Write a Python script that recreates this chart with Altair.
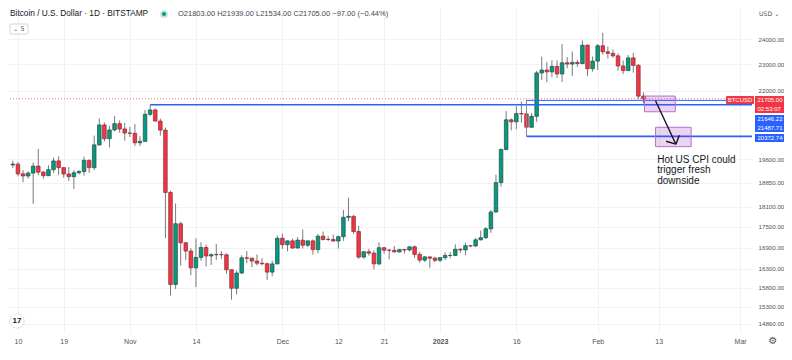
import altair as alt
import pandas as pd

# ---------------- data ----------------
dates = pd.date_range("2022-10-09", periods=125, freq="D").strftime("%Y-%m-%d").tolist()
opens = [19417, 19445, 19130, 19060, 19155, 19380, 19185, 19070, 19265, 19550,
         19330, 19125, 19040, 19165, 19205, 19570, 19330, 20085, 20770, 20295,
         20595, 20815, 20630, 20490, 20480, 20155, 20205, 21145, 21300, 20905,
         20590, 18540, 15880, 17590, 17035, 16800, 16330, 16620, 16900, 16660,
         16695, 16700, 16695, 16280, 15780, 16190, 16610, 16600, 16520, 16460,
         16445, 16215, 16440, 17165, 16980, 17090, 16885, 17110, 16965, 17090,
         16840, 17225, 17130, 17130, 17085, 17210, 17780, 17810, 17360, 16630,
         16780, 16740, 16440, 16895, 16825, 16820, 16775, 16840, 16830, 16920,
         16705, 16545, 16635, 16600, 16540, 16615, 16675, 16675, 16850, 16830,
         16950, 16945, 17120, 17180, 17440, 17940, 18850, 19930, 20950, 20880,
         21170, 21160, 20690, 21075, 22670, 22780, 22710, 22920, 22630, 23060,
         23010, 23075, 23030, 23750, 22830, 23125, 23730, 23490, 23430, 23330,
         22935, 22760, 23250, 22960, 21803]
highs = [19560, 19515, 19250, 19210, 19500, 19950, 19220, 19410, 19660, 19700,
         19350, 19350, 19250, 19250, 19690, 19600, 20400, 21000, 20860, 20740,
         21080, 20930, 20840, 20700, 20800, 20380, 21300, 21480, 21360, 20990,
         20680, 18590, 18200, 17650, 17050, 16880, 17160, 17050, 16980, 16740,
         17000, 16800, 16730, 16280, 16260, 16680, 16800, 16610, 16700, 16600,
         16480, 16530, 17240, 17300, 17100, 17150, 17200, 17420, 17100, 17130,
         17290, 17360, 17220, 17270, 17240, 18000, 18380, 17850, 17530, 16800,
         16860, 16820, 17050, 16910, 16860, 16940, 16860, 16860, 16930, 16960,
         16780, 16660, 16640, 16640, 16630, 16760, 16770, 16990, 16880, 17040,
         16970, 17180, 17390, 17490, 18000, 19100, 19960, 21260, 21000, 21440,
         21610, 21650, 21190, 22750, 23300, 23080, 23160, 23150, 23800, 23280,
         23500, 23170, 23940, 23790, 23300, 23800, 24250, 23700, 23580, 23430,
         23150, 23360, 23450, 23010, 21939]
lows = [19320, 19050, 18860, 18980, 18190, 19090, 18980, 19060, 19160, 19100,
        19000, 18900, 18650, 19110, 19070, 19160, 19250, 20060, 20200, 20000,
        20550, 20500, 20230, 20350, 20050, 20050, 20180, 21080, 20900, 20400,
        17170, 15590, 15760, 16400, 16550, 16130, 15810, 16530, 16370, 16410,
        16550, 16580, 16170, 15480, 15620, 16160, 16460, 16350, 16400, 16400,
        16000, 16100, 16430, 16860, 16790, 16860, 16880, 16870, 16910, 16700,
        16740, 17100, 17090, 17070, 16870, 17090, 17660, 17290, 16580, 16590,
        16670, 16290, 16400, 16720, 16570, 16760, 16760, 16730, 16790, 16600,
        16470, 16490, 16330, 16490, 16490, 16550, 16600, 16660, 16750, 16680,
        16910, 16910, 17100, 17150, 17320, 17920, 18720, 19900, 20580, 20620,
        20850, 20400, 20670, 20880, 22400, 22320, 22500, 22480, 22330, 22850,
        22550, 22900, 23000, 22550, 22720, 22780, 23380, 23230, 23260, 22760,
        22630, 22740, 22680, 21690, 21534]
closes = [19445, 19130, 19060, 19155, 19380, 19185, 19070, 19265, 19550, 19330,
          19125, 19040, 19165, 19205, 19570, 19330, 20085, 20770, 20295, 20595,
          20815, 20630, 20490, 20480, 20155, 20205, 21145, 21300, 20905, 20590,
          18540, 15880, 17590, 17035, 16800, 16330, 16620, 16900, 16660, 16695,
          16700, 16695, 16280, 15780, 16190, 16610, 16600, 16520, 16460, 16445,
          16215, 16440, 17165, 16980, 17090, 16885, 17110, 16965, 17090, 16840,
          17225, 17130, 17130, 17085, 17210, 17780, 17810, 17360, 16630, 16780,
          16740, 16440, 16895, 16825, 16820, 16775, 16840, 16830, 16920, 16705,
          16545, 16635, 16600, 16540, 16615, 16675, 16675, 16850, 16830, 16950,
          16945, 17120, 17180, 17440, 17940, 18850, 19930, 20950, 20880, 21170,
          21160, 20690, 21075, 22670, 22780, 22710, 22920, 22630, 23060, 23010,
          23075, 23030, 23750, 22830, 23125, 23730, 23490, 23430, 23330, 22935,
          22760, 23250, 22960, 21800, 21705]

y_ticks = [24000, 23000, 22000, 19600, 18850, 18100, 17500, 16900, 16300, 15800, 15300, 14860]
x_ticks = ["2022-10-10", "2022-10-19", "2022-11-01", "2022-11-14", "2022-12-01", "2022-12-12",
           "2022-12-21", "2023-01-01", "2023-01-16", "2023-02-01", "2023-02-13", "2023-03-01"]

ray_price = [21487.71, 21646.22, 20372.74]
ray_start = ["2022-11-05", "2023-01-18", "2023-01-18"]
ray_end = "2023-03-06"
ray_width = [1.6, 1.0, 1.6]

last_price = 21705.00

zone_x = ["2023-02-10T05:00:00Z", "2023-02-12T09:00:00Z"]
zone_x2 = ["2023-02-16T06:00:00Z", "2023-02-19T09:00:00Z"]
zone_top = [21804, 20688]
zone_bottom = [21236, 20025]

arrow_x = ["2023-02-12T09:00:00Z", "2023-02-14T11:00:00Z", "2023-02-17T01:00:00Z"]
arrow_y = [21632, 20209, 20415]
arrow_tip_x = "2023-02-16T09:00:00Z"
arrow_tip_y = 20108

note_x = "2023-02-12T17:00:00Z"
note_y = 19748
note_text = "Hot US CPI could\ntrigger fresh\ndownside"

# ---------------- frames ----------------
df = pd.DataFrame({"date": dates, "open": opens, "high": highs, "low": lows, "close": closes})
df["dir"] = ["up" if c >= o else "down" for o, c in zip(opens, closes)]

rays = pd.DataFrame({"start": ray_start, "end": [ray_end] * 3, "price": ray_price, "w": ray_width})
zones = pd.DataFrame({"x": zone_x, "x2": zone_x2, "top": zone_top, "bottom": zone_bottom})
arrow = pd.DataFrame({"x": arrow_x, "y": arrow_y, "x2": [arrow_tip_x] * 3, "y2": [arrow_tip_y] * 3})
note = pd.DataFrame({"x": [note_x], "y": [note_y], "t": [note_text]})
bracket = pd.DataFrame({"x": [ray_start[1]], "y": [ray_price[2]], "y2": [ray_price[1]]})
lastp = pd.DataFrame({"p": [last_price]})

W, H = 744, 325
FONT = "Liberation Sans"
GREEN, RED = "#089981", "#f23645"
BLUE = "#2962ff"


def dt(s):
    y, m, d = s.split("-")
    return alt.DateTime(year=int(y), month=int(m), date=int(d), utc=True)


x_scale = alt.Scale(type="utc", domain=[
    alt.DateTime(year=2022, month=10, date=9, hours=0, minutes=43, utc=True),
    alt.DateTime(year=2023, month=3, date=2, hours=8, minutes=38, utc=True)])
y_scale = alt.Scale(type="log", domain=[14636, 25286], nice=False, zero=False)

x_axis = alt.Axis(
    values=[dt(s) for s in x_ticks],
    labelExpr="utcdate(datum.value) == 1 ? (utcmonth(datum.value) == 0 ? utcFormat(datum.value, '%Y') : utcFormat(datum.value, '%b')) : utcFormat(datum.value, '%-d')",
    labelFontWeight={"condition": {"test": "utcdate(datum.value) == 1 && utcmonth(datum.value) == 0", "value": "bold"}, "value": "normal"},
    labelFontSize=7, labelColor="#50535e", labelPadding=4, ticks=False, domain=False,
    grid=True, gridColor="#f0f2f6", title=None, labelFont=FONT, labelOverlap=False)
y_axis = alt.Axis(
    orient="right", values=y_ticks, format=".2f", labelFontSize=6.2, labelColor="#50535e",
    labelPadding=6, ticks=False, domain=False, grid=True, gridColor="#f0f2f6",
    labelAlign="left", labelBaseline="middle", title=None, labelFont=FONT, labelOverlap=False)

base = alt.Chart(df)
wicks = base.mark_rule(color="#7a7a7a", strokeWidth=1, clip=True).encode(
    x=alt.X("date:T", scale=x_scale, axis=x_axis),
    y=alt.Y("low:Q", scale=y_scale, axis=y_axis),
    y2="high:Q")
bodies = base.mark_bar(width=3.6, strokeWidth=0.7, clip=True).encode(
    x=alt.X("date:T", title=None),
    y=alt.Y("open:Q", title=None),
    y2="close:Q",
    color=alt.Color("dir:N", scale=alt.Scale(domain=["up", "down"], range=[GREEN, RED]), legend=None),
    stroke=alt.Stroke("dir:N", scale=alt.Scale(domain=["up", "down"], range=["#1f4d44", "#8c2631"]), legend=None))

price_line = alt.Chart(lastp).mark_rule(color=RED, strokeDash=[1, 2], strokeWidth=1, opacity=0.7).encode(
    y=alt.Y("p:Q", title=None))

ray_marks = alt.Chart(rays).mark_rule(color=BLUE, clip=True).encode(
    x=alt.X("start:T", title=None), x2="end:T", y=alt.Y("price:Q", title=None),
    strokeWidth=alt.StrokeWidth("w:Q", scale=None, legend=None))
bracket_mark = alt.Chart(bracket).mark_rule(color="#7d8aa6", strokeWidth=1).encode(
    x=alt.X("x:T", title=None), y=alt.Y("y:Q", title=None), y2="y2:Q")

zone_marks = alt.Chart(zones).mark_rect(fill="#9c27b0", fillOpacity=0.2, stroke="#b46fd0",
                                        strokeWidth=1, clip=True).encode(
    x=alt.X("x:T", title=None), x2="x2:T", y=alt.Y("top:Q", title=None), y2="bottom:Q")

arrow_marks = alt.Chart(arrow).mark_rule(color="#131722", strokeWidth=1.4).encode(
    x=alt.X("x:T", title=None), x2="x2:T", y=alt.Y("y:Q", title=None), y2="y2:Q")

note_mark = alt.Chart(note).mark_text(align="left", baseline="top", fontSize=10, lineHeight=10.5,
                                      lineBreak="\n", color="#131722", font=FONT).encode(
    x=alt.X("x:T", title=None), y=alt.Y("y:Q", title=None), text="t:N")

one = alt.Data(values=[{"k": 0}])


def ui_text(txt, x, y, size=7, color="#131722", align="left", weight="normal", font=FONT):
    return alt.Chart(one).mark_text(text=txt, align=align, baseline="middle", fontSize=size,
                                    color=color, fontWeight=weight, font=font).encode(
        x=alt.value(x), y=alt.value(y))


def ui_rect(x, x2, y, y2, fill, stroke=None, radius=0):
    kw = dict(fill=fill, cornerRadius=radius)
    if stroke:
        kw.update(stroke=stroke, strokeWidth=1)
    return alt.Chart(one).mark_rect(**kw).encode(
        x=alt.value(x), x2=alt.value(x2), y=alt.value(y), y2=alt.value(y2))


title_t = ui_text("Bitcoin / U.S. Dollar · 1D · BITSTAMP", 2, 6, size=8.3, color="#131722")
dot_halo = alt.Chart(one).mark_point(filled=True, size=60, color=GREEN, opacity=0.25).encode(
    x=alt.value(156), y=alt.value(6))
dot = alt.Chart(one).mark_point(filled=True, size=16, color=GREEN, opacity=1).encode(
    x=alt.value(156), y=alt.value(6))
ohlc_t = ui_text("O21803.00 H21939.00 L21534.00 C21705.00 −97.00 (−0.44%)", 170, 6, size=7.5, color="#434651")
ind_box = ui_rect(2, 20, 16, 26, "white", stroke="#d1d4dc", radius=1)
ind_t = ui_text("⌄ 5", 5, 20.5, size=6.5, color="#50535e", font="DejaVu Sans")
usd_t = ui_text("USD ⌄", 751, 6, size=6.2, color="#50535e", font="DejaVu Sans")
gear_t = ui_text("⚙", 765, 333, size=10, color="#50535e", align="center", font="DejaVu Sans")

logo_c = alt.Chart(one).mark_point(filled=True, size=210, color="white", stroke="#e0e3eb",
                                   strokeWidth=1, opacity=1).encode(x=alt.value(9), y=alt.value(313))
logo_t = ui_text("17", 9, 313, size=8, color="#131722", align="center", weight="bold")

btc_box = ui_rect(718, 746, 88, 96, RED, radius=1)
btc_t = ui_text("BTCUSD", 732, 92, size=6, color="white", align="center")
last_box = ui_rect(747, 776, 88, 105, RED)
last_t1 = ui_text("21705.00", 749.5, 92, size=6, color="white")
last_t2 = ui_text("02:53:07", 749.5, 100.5, size=6, color="white")
blue_box1 = ui_rect(747, 776, 107, 124, BLUE)
blue_t1 = ui_text("21646.22", 749.5, 111, size=6, color="white")
blue_t2 = ui_text("21487.71", 749.5, 119.5, size=6, color="white")
blue_box2 = ui_rect(747, 776, 126, 134, BLUE)
blue_t3 = ui_text("20372.74", 749.5, 130, size=6, color="white")

chart = alt.layer(
    wicks, bodies, price_line, ray_marks, bracket_mark, zone_marks, arrow_marks, note_mark,
    title_t, dot_halo, dot, ohlc_t, ind_box, ind_t, usd_t, gear_t, logo_c, logo_t,
    btc_box, btc_t, last_box, last_t1, last_t2, blue_box1, blue_t1, blue_t2, blue_box2, blue_t3,
).properties(
    width=W, height=H,
    autosize=alt.AutoSizeParams(type="none"),
    padding={"left": 0, "top": 0, "right": 32, "bottom": 19},
    background="white",
).configure_view(stroke=None)

chart.save("out.html", embed_options={"renderer": "svg", "actions": False})
